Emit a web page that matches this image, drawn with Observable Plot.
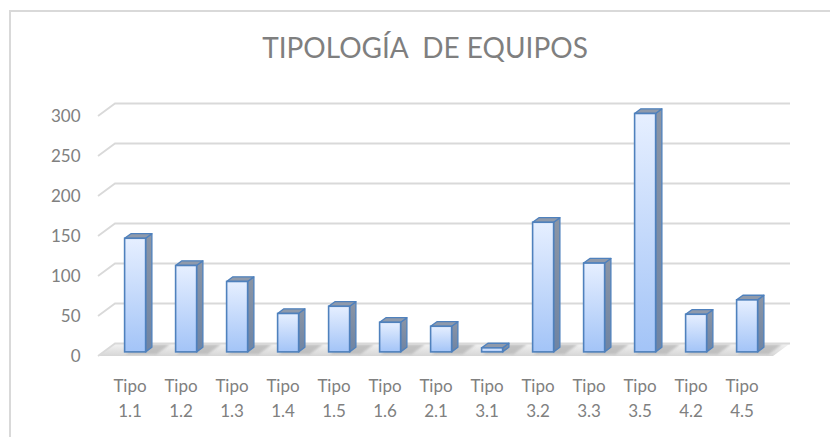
<!DOCTYPE html>
<html><head><meta charset="utf-8">
<script src="https://cdn.jsdelivr.net/npm/d3@7"></script>
<script src="https://cdn.jsdelivr.net/npm/@observablehq/plot@0.6"></script>
<style>
body{margin:0;background:#fff;width:830px;height:437px;overflow:hidden;position:relative;font-family:Lato,"Open Sans",sans-serif;}
#frame{position:absolute;left:9px;top:10px;width:840px;height:450px;border-left:2px solid #d9d9d9;border-top:2px solid #d9d9d9;}
#title{position:absolute;left:10px;width:830px;top:33px;line-height:28px;text-align:center;font-size:28px;color:#7f7f7f;white-space:pre;}
#chart{position:absolute;left:0;top:0;}
</style></head><body>
<div id="frame"></div>
<div id="title">TIPOLOGÍA  DE EQUIPOS</div>
<div id="chart"></div>
<script>
const categories = ["Tipo 1.1","Tipo 1.2","Tipo 1.3","Tipo 1.4","Tipo 1.5","Tipo 1.6","Tipo 2.1","Tipo 3.1","Tipo 3.2","Tipo 3.3","Tipo 3.5","Tipo 4.2","Tipo 4.5"];
const values = [142,108,88,48,57,37,32,5,162,111,298,47,65];
const yTicks = [0,50,100,150,200,250,300];

const rows = categories.map((c, i) => ({cat: c, value: values[i]}));

// depth vector of the 3D floor (pixels) and bar placement within it
const DX = 17, DY = -12.5, T0 = 0.33, T1 = 0.70, HALF = 10.5;

function bandwidthOf(scales, dims) {
  const b = scales.x && scales.x.bandwidth;
  const v = typeof b === "function" ? b() : b;
  return (v && isFinite(v)) ? v : (dims.width - dims.marginLeft - dims.marginRight) / categories.length;
}

function floorRender(index, scales, values, dims) {
  const g = d3.create("svg:g");
  const defs = g.append("defs");
  const fg = defs.append("linearGradient").attr("id", "floorGrad").attr("x1", 0).attr("y1", 0).attr("x2", 0).attr("y2", 1);
  fg.append("stop").attr("offset", 0).attr("stop-color", "#f3f3f3");
  fg.append("stop").attr("offset", 1).attr("stop-color", "#d6d6d6");
  defs.append("filter").attr("id", "shBlur").append("feGaussianBlur").attr("stdDeviation", 1.2);
  const y0 = scales.y(0);
  const xl = dims.marginLeft, xr = dims.width - dims.marginRight;
  g.append("polygon")
    .attr("points", [[xl, y0], [xr, y0], [xr + DX, y0 + DY], [xl + DX, y0 + DY]].join(" "))
    .attr("fill", "url(#floorGrad)");
  const bw = bandwidthOf(scales, dims);
  for (const row of rows) {
    const cx = scales.x(row.cat) + bw / 2;
    const a = cx - HALF + 4, b = cx + HALF + 14;
    const pts = [[a + 0.15 * DX, y0 + 0.15 * DY], [b + 0.15 * DX, y0 + 0.15 * DY], [b + 0.95 * DX, y0 + 0.95 * DY], [a + 0.95 * DX, y0 + 0.95 * DY]];
    g.append("polygon").attr("points", pts.join(" ")).attr("fill", "#b8b8b8").attr("opacity", 0.8).attr("filter", "url(#shBlur)");
  }
  return g.node();
}

function gridRender(index, scales, values, dims) {
  const g = d3.create("svg:g");
  const xl = dims.marginLeft, xr = dims.width - dims.marginRight;
  for (const i of index) {
    const yy = values.y[i];
    g.append("polyline")
      .attr("points", [[xl, yy], [xl + DX, yy + DY], [xr + DX, yy + DY]].join(" "))
      .attr("fill", "none").attr("stroke", "#d9d9d9").attr("stroke-width", 1.8);
  }
  return g.node();
}

function barsRender(index, scales, values, dims) {
  const g = d3.create("svg:g");
  const defs = g.append("defs");
  const front = defs.append("linearGradient").attr("id", "frontGrad").attr("x1", 0).attr("y1", 0).attr("x2", 0).attr("y2", 1);
  front.append("stop").attr("offset", 0).attr("stop-color", "#e6efff");
  front.append("stop").attr("offset", 1).attr("stop-color", "#a3c4f7");
  const side = defs.append("linearGradient").attr("id", "sideGrad").attr("x1", 0).attr("y1", 0).attr("x2", 0).attr("y2", 1);
  side.append("stop").attr("offset", 0).attr("stop-color", "#8b95a5");
  side.append("stop").attr("offset", 1).attr("stop-color", "#6f84a3");
  const bw = bandwidthOf(scales, dims);
  const y0 = scales.y(0);
  for (const i of index) {
    const cx = scales.x(rows[i].cat) + bw / 2;
    const yv = scales.y(rows[i].value);
    const P = (x, y, t) => [x + t * DX, y + t * DY];
    const l = cx - HALF, r = cx + HALF;
    const stroke = "#4f81bd";
    // side face
    g.append("polygon").attr("points", [P(r, y0, T0), P(r, y0, T1), P(r, yv, T1), P(r, yv, T0)].join(" "))
      .attr("fill", "url(#sideGrad)").attr("stroke", stroke).attr("stroke-width", 1.3).attr("stroke-linejoin", "round");
    // top face
    g.append("polygon").attr("points", [P(l, yv, T0), P(r, yv, T0), P(r, yv, T1), P(l, yv, T1)].join(" "))
      .attr("fill", "#8f9aab").attr("stroke", stroke).attr("stroke-width", 1.3).attr("stroke-linejoin", "round");
    // front face
    const [fx, fy] = P(l, yv, T0);
    g.append("rect").attr("x", fx).attr("y", fy).attr("width", r - l).attr("height", Math.max(0.5, y0 - yv))
      .attr("fill", "url(#frontGrad)").attr("stroke", stroke).attr("stroke-width", 1.6);
  }
  return g.node();
}

const chart = Plot.plot({
  width: 830,
  height: 437,
  marginLeft: 98,
  marginRight: 57,
  marginTop: 116,
  marginBottom: 81,
  style: {background: "transparent", fontFamily: "Lato, 'Open Sans', sans-serif", overflow: "visible"},
  x: {type: "band", domain: categories, padding: 0, axis: null, label: null},
  y: {domain: [0, 300], axis: null, label: null},
  marks: [
    Plot.ruleY([0], {render: floorRender}),
    Plot.ruleY(yTicks, {render: gridRender}),
    Plot.barY(rows, {x: "cat", y: "value", render: barsRender}),
    Plot.axisY(yTicks, {tickSize: 0, tickPadding: 18, fontSize: 17, color: "#808080", label: null, tickFormat: d => String(d)}),
    Plot.axisX(categories, {tickSize: 0, tickPadding: 18, fontSize: 17, color: "#808080", label: null, lineHeight: 1.45, tickFormat: d => d.replace(" ", "\n")})
  ]
});
document.getElementById("chart").appendChild(chart);
</script>
</body></html>
